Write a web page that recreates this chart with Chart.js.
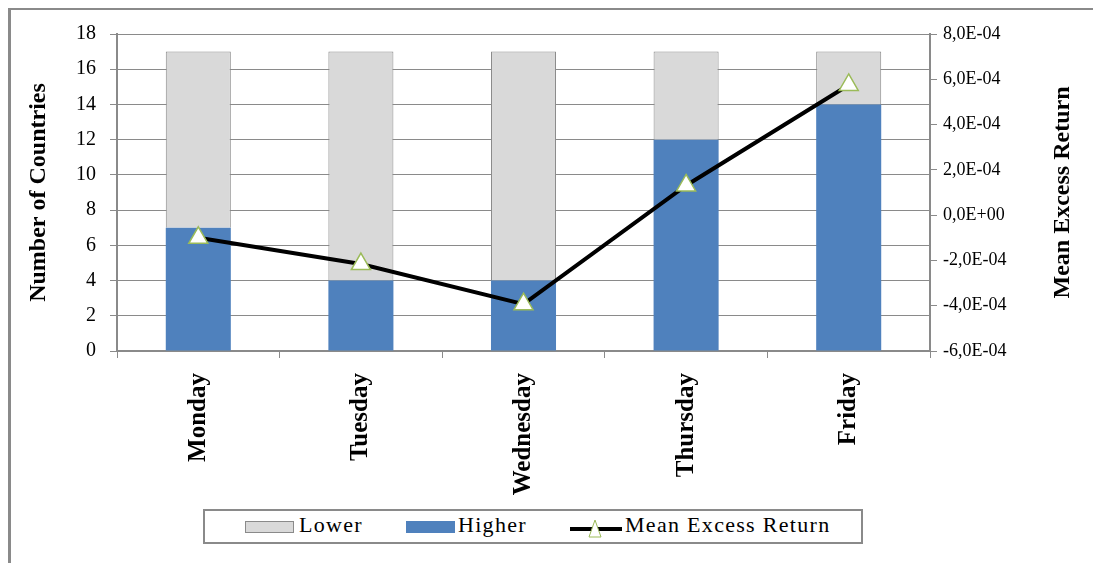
<!DOCTYPE html>
<html>
<head>
<meta charset="utf-8">
<script src="https://cdn.jsdelivr.net/npm/chart.js@4.4.1/dist/chart.umd.min.js"></script>
<style>
    html, body { margin: 0; padding: 0; background: #fff; overflow: hidden; }
    #wrap { position: relative; width: 1093px; height: 563px; }
    #frame {
        position: absolute; left: 8px; top: 8px; width: 1200px; height: 700px;
        border-left: 3px solid #8a8a8a; border-top: 2px solid #8a8a8a;
    }
    #myChart { position: absolute; left: 0; top: 0; }
    #legend {
        position: absolute; left: 203px; top: 509px; width: 656px; height: 31px;
        border: 2px solid #8a8a8a; background: #fff;
        font-family: "Liberation Serif", "Times New Roman", serif; font-size: 22px;
        letter-spacing: 1.3px; color: #000;
    }
    #legend .sw { position: absolute; top: 10px; width: 47px; height: 10px; border: 1px solid #8a8a8a; }
    #legend .txt { position: absolute; top: 3px; line-height: 22px; white-space: nowrap; }
    #legend svg { position: absolute; top: 2px; }
</style>
</head>
<body>
<div id="wrap">
    <div id="frame"></div>
    <canvas id="myChart" width="1093" height="563"></canvas>
    <div id="legend">
        <span class="sw" style="left:40px; background:#d9d9d9;"></span>
        <span class="txt" style="left:94px;">Lower</span>
        <span class="sw" style="left:201px; background:#4f81bd; border-color:#4f81bd;"></span>
        <span class="txt" style="left:253px;">Higher</span>
        <svg style="left:363px;" width="56" height="28">
            <line x1="2" y1="16" x2="54" y2="16" stroke="#000" stroke-width="4"/>
            <polygon points="27,7 21,24 33,24" fill="#fff" stroke="#9bbb59" stroke-width="1"/>
        </svg>
        <span class="txt" style="left:420px;">Mean Excess Return</span>
    </div>
</div>
<script>
// Data per hari
const categories = ['Monday', 'Tuesday', 'Wednesday', 'Thursday', 'Friday'];
const higher = [7, 4, 4, 12, 14];
const lower = [10, 13, 13, 5, 3];
const meanExcessReturn = [-1.0e-4, -2.16e-4, -3.93e-4, 1.31e-4, 5.75e-4];

const serif = '"Liberation Serif", "Times New Roman", serif';
const gridColor = '#8a8a8a';

// Format angka gaya Excel: 8,0E-04
function sciLabel(v) {
    if (Math.abs(v) < 1e-12) v = 0;
    const parts = v.toExponential(1).split('e');
    let exp = parseInt(parts[1], 10);
    const sign = exp < 0 ? '-' : '+';
    exp = Math.abs(exp);
    return parts[0].replace('.', ',') + 'E' + sign + (exp < 10 ? '0' + exp : exp);
}

// Judul sumbu kanan dibaca dari bawah ke atas
const rightTitle = {
    id: 'rightTitle',
    afterDraw(chart) {
        const c = chart.ctx;
        const area = chart.chartArea;
        c.save();
        c.translate(chart.scales.y1.right - 30, (area.top + area.bottom) / 2);
        c.rotate(-Math.PI / 2);
        c.font = 'bold 24px ' + serif;
        c.fillStyle = '#000';
        c.textAlign = 'center';
        c.textBaseline = 'middle';
        c.fillText('Mean Excess Return', 0, 0);
        c.restore();
    }
};

const ctx = document.getElementById('myChart').getContext('2d');
const myChart = new Chart(ctx, {
    type: 'bar',
    data: {
        labels: categories,
        datasets: [{
            label: 'Higher',
            data: higher,
            backgroundColor: '#4f81bd',
            borderWidth: 0,
            order: 1
        }, {
            label: 'Lower',
            data: lower,
            backgroundColor: '#d9d9d9',
            borderColor: gridColor,
            borderWidth: 1,
            order: 1
        }, {
            type: 'line',
            label: 'Mean Excess Return',
            data: meanExcessReturn,
            yAxisID: 'y1',
            borderColor: '#000',
            borderWidth: 4,
            pointStyle: 'triangle',
            pointRadius: 11,
            pointBackgroundColor: '#fff',
            pointBorderColor: '#9bbb59',
            pointBorderWidth: 1.5,
            order: 0
        }]
    },
    options: {
        responsive: false,
        animation: false,
        categoryPercentage: 1.0,
        barPercentage: 0.4,
        layout: { padding: { top: 34, left: 0, right: 0, bottom: 0 } },
        plugins: {
            legend: { display: false },
            tooltip: { enabled: false }
        },
        scales: {
            x: {
                stacked: true,
                grid: { drawOnChartArea: false, color: gridColor, tickLength: 7, offset: true },
                border: { color: gridColor, width: 2 },
                ticks: {
                    minRotation: 90, maxRotation: 90, padding: 15,
                    color: '#000',
                    font: { family: serif, size: 25, weight: 'bold' }
                },
                afterFit(scale) { scale.height = 212; }
            },
            y: {
                stacked: true,
                position: 'left',
                min: 0, max: 18,
                grid: { color: gridColor, tickLength: 7 },
                border: { color: gridColor, width: 2 },
                ticks: {
                    stepSize: 2, padding: 14, color: '#000',
                    font: { family: serif, size: 20 }
                },
                title: {
                    display: true,
                    text: 'Number of Countries',
                    color: '#000',
                    font: { family: serif, size: 24, weight: 'bold' },
                    padding: { top: 24, bottom: 0 }
                },
                afterFit(scale) { scale.width = 117; }
            },
            y1: {
                position: 'right',
                min: -6e-4, max: 8e-4,
                grid: { drawOnChartArea: false, color: gridColor, tickLength: 7 },
                border: { color: gridColor, width: 2 },
                ticks: {
                    stepSize: 2e-4, padding: 6, color: '#000',
                    font: { family: serif, size: 18 },
                    callback: (v) => sciLabel(v)
                },
                afterFit(scale) { scale.width = 163; }
            }
        }
    },
    plugins: [rightTitle]
});
</script>
</body>
</html>
